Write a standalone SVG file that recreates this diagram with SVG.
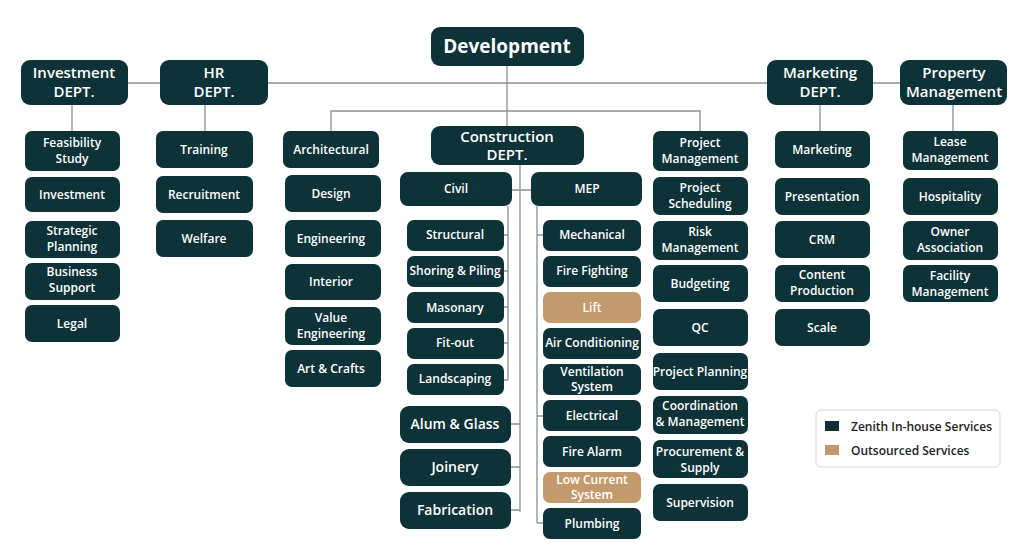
<svg xmlns="http://www.w3.org/2000/svg" width="1024" height="556" viewBox="0 0 1024 556">
<style>
.n{fill:#0d3238}.o{fill:#c39a6e}
text{font-family:"Open Sans","Liberation Sans",sans-serif;font-weight:600;fill:#fff;text-anchor:middle}
.s{font-size:12px}.m{font-size:14px}.l{font-size:15px}.xl{font-size:19px;font-weight:700}
.c{stroke:#8a9294;stroke-width:1.3;fill:none}
.lg{font-size:12px;fill:#222;text-anchor:start}
</style>
<rect width="1024" height="556" fill="#fff"/>
<g id="connectors" class="c">
<path d="M128 83H160M268 83H767M873 83H900"/>
<path d="M507 66V126M331 131V111H700V131"/>
<path d="M72 105V131M205 105V131M820 105V131M953 105V131"/>
<path d="M520 165V512M512 190H531"/>
<path d="M508 206V380M504 235H508M504 271H508M504 307H508M504 343H508M504 380H508"/>
<path d="M511 424H520M511 467H520M511 510H520"/>
<path d="M537 206V523M537 235H543M537 416H543M537 523H543"/>
</g>
<g id="development"><rect class="n" x="431" y="27" width="153" height="39" rx="9"/><text class="xl" x="507" y="53">Development</text></g>
<g id="investment"><rect class="n" x="21" y="60" width="107" height="45" rx="9"/><text class="l" x="74" y="78">Investment</text><text class="l" x="74" y="97">DEPT.</text></g>
<g id="hr"><rect class="n" x="160" y="60" width="108" height="45" rx="9"/><text class="l" x="214" y="78">HR</text><text class="l" x="214" y="97">DEPT.</text></g>
<g id="marketing"><rect class="n" x="767" y="60" width="106" height="45" rx="9"/><text class="l" x="820" y="78">Marketing</text><text class="l" x="820" y="97">DEPT.</text></g>
<g id="property"><rect class="n" x="900" y="60" width="107" height="45" rx="9"/><text class="l" x="954" y="78">Property</text><text class="l" x="954" y="97">Management</text></g>
<g id="construction"><rect class="n" x="431" y="126" width="153" height="39" rx="9"/><text class="l" x="507" y="142">Construction</text><text class="l" x="507" y="160">DEPT.</text></g>
<g id="civil"><rect class="n" x="400" y="172" width="112" height="34" rx="8"/><text class="s" x="456" y="193">Civil</text></g>
<g id="mep"><rect class="n" x="531" y="172" width="111" height="34" rx="8"/><text class="s" x="587" y="193">MEP</text></g>

<g id="feasibility"><rect class="n" x="25" y="131" width="95" height="40" rx="7"/><text class="s" x="72" y="147">Feasibility</text><text class="s" x="72" y="163">Study</text></g>
<g id="inv"><rect class="n" x="25" y="177" width="95" height="35" rx="7"/><text class="s" x="72" y="199">Investment</text></g>
<g id="strategic"><rect class="n" x="25" y="221" width="95" height="37" rx="7"/><text class="s" x="72" y="235">Strategic</text><text class="s" x="72" y="251">Planning</text></g>
<g id="business"><rect class="n" x="25" y="263" width="95" height="37" rx="7"/><text class="s" x="72" y="276">Business</text><text class="s" x="72" y="292">Support</text></g>
<g id="legal"><rect class="n" x="25" y="305" width="95" height="37" rx="7"/><text class="s" x="72" y="328">Legal</text></g>

<g id="training"><rect class="n" x="156" y="131" width="97" height="37" rx="7"/><text class="s" x="204" y="154">Training</text></g>
<g id="recruitment"><rect class="n" x="156" y="176" width="97" height="37" rx="7"/><text class="s" x="204" y="199">Recruitment</text></g>
<g id="welfare"><rect class="n" x="156" y="220" width="97" height="37" rx="7"/><text class="s" x="204" y="243">Welfare</text></g>

<g id="architectural"><rect class="n" x="283" y="131" width="96" height="37" rx="7"/><text class="s" x="331" y="154">Architectural</text></g>
<g id="design"><rect class="n" x="285" y="175" width="96" height="37" rx="7"/><text class="s" x="331" y="198">Design</text></g>
<g id="engineering"><rect class="n" x="285" y="220" width="96" height="37" rx="7"/><text class="s" x="331" y="243">Engineering</text></g>
<g id="interior"><rect class="n" x="285" y="264" width="96" height="36" rx="7"/><text class="s" x="331" y="286">Interior</text></g>
<g id="value"><rect class="n" x="285" y="307" width="96" height="38" rx="7"/><text class="s" x="331" y="322">Value</text><text class="s" x="331" y="338">Engineering</text></g>
<g id="art"><rect class="n" x="285" y="350" width="96" height="37" rx="7"/><text class="s" x="331" y="373">Art &amp; Crafts</text></g>

<g id="structural"><rect class="n" x="407" y="220" width="97" height="31" rx="7"/><text class="s" x="455" y="239">Structural</text></g>
<g id="shoring"><rect class="n" x="407" y="256" width="97" height="31" rx="7"/><text class="s" x="455" y="275">Shoring &amp; Piling</text></g>
<g id="masonary"><rect class="n" x="407" y="292" width="97" height="31" rx="7"/><text class="s" x="455" y="312">Masonary</text></g>
<g id="fitout"><rect class="n" x="407" y="328" width="97" height="31" rx="7"/><text class="s" x="455" y="347">Fit-out</text></g>
<g id="landscaping"><rect class="n" x="407" y="364" width="97" height="31" rx="7"/><text class="s" x="455" y="383">Landscaping</text></g>
<g id="alum"><rect class="n" x="400" y="406" width="111" height="37" rx="9"/><text class="m" x="455" y="429">Alum &amp; Glass</text></g>
<g id="joinery"><rect class="n" x="400" y="449" width="111" height="37" rx="9"/><text class="m" x="455" y="472">Joinery</text></g>
<g id="fabrication"><rect class="n" x="400" y="492" width="111" height="37" rx="9"/><text class="m" x="455" y="515">Fabrication</text></g>

<g id="mechanical"><rect class="n" x="543" y="220" width="98" height="31" rx="7"/><text class="s" x="592" y="239">Mechanical</text></g>
<g id="firefighting"><rect class="n" x="543" y="256" width="98" height="31" rx="7"/><text class="s" x="592" y="275">Fire Fighting</text></g>
<g id="lift"><rect class="o" x="543" y="292" width="98" height="31" rx="7"/><text class="s" x="592" y="312">Lift</text></g>
<g id="aircon"><rect class="n" x="543" y="328" width="98" height="31" rx="7"/><text class="s" x="592" y="347">Air Conditioning</text></g>
<g id="ventilation"><rect class="n" x="543" y="364" width="98" height="31" rx="7"/><text class="s" x="592" y="376">Ventilation</text><text class="s" x="592" y="391">System</text></g>
<g id="electrical"><rect class="n" x="543" y="400" width="98" height="31" rx="7"/><text class="s" x="592" y="420">Electrical</text></g>
<g id="firealarm"><rect class="n" x="543" y="436" width="98" height="31" rx="7"/><text class="s" x="592" y="456">Fire Alarm</text></g>
<g id="lowcurrent"><rect class="o" x="543" y="472" width="98" height="31" rx="7"/><text class="s" x="592" y="484">Low Current</text><text class="s" x="592" y="499">System</text></g>
<g id="plumbing"><rect class="n" x="543" y="508" width="98" height="31" rx="7"/><text class="s" x="592" y="528">Plumbing</text></g>

<g id="pm"><rect class="n" x="653" y="131" width="95" height="40" rx="7"/><text class="s" x="700" y="147">Project</text><text class="s" x="700" y="163">Management</text></g>
<g id="ps"><rect class="n" x="653" y="177" width="95" height="38" rx="7"/><text class="s" x="700" y="192">Project</text><text class="s" x="700" y="208">Scheduling</text></g>
<g id="risk"><rect class="n" x="653" y="221" width="95" height="39" rx="7"/><text class="s" x="700" y="236">Risk</text><text class="s" x="700" y="252">Management</text></g>
<g id="budgeting"><rect class="n" x="653" y="265" width="95" height="37" rx="7"/><text class="s" x="700" y="288">Budgeting</text></g>
<g id="qc"><rect class="n" x="653" y="309" width="95" height="37" rx="7"/><text class="s" x="700" y="332">QC</text></g>
<g id="planning"><rect class="n" x="653" y="353" width="95" height="37" rx="7"/><text class="s" x="700" y="376">Project Planning</text></g>
<g id="coordination"><rect class="n" x="653" y="396" width="95" height="38" rx="7"/><text class="s" x="700" y="410">Coordination</text><text class="s" x="700" y="426">&amp; Management</text></g>
<g id="procurement"><rect class="n" x="653" y="440" width="95" height="38" rx="7"/><text class="s" x="700" y="456">Procurement &amp;</text><text class="s" x="700" y="472">Supply</text></g>
<g id="supervision"><rect class="n" x="653" y="484" width="95" height="37" rx="7"/><text class="s" x="700" y="507">Supervision</text></g>

<g id="mkt"><rect class="n" x="775" y="131" width="95" height="37" rx="7"/><text class="s" x="822" y="154">Marketing</text></g>
<g id="presentation"><rect class="n" x="775" y="178" width="95" height="37" rx="7"/><text class="s" x="822" y="201">Presentation</text></g>
<g id="crm"><rect class="n" x="775" y="221" width="95" height="37" rx="7"/><text class="s" x="822" y="244">CRM</text></g>
<g id="content"><rect class="n" x="775" y="265" width="95" height="37" rx="7"/><text class="s" x="822" y="279">Content</text><text class="s" x="822" y="295">Production</text></g>
<g id="scale"><rect class="n" x="775" y="309" width="95" height="37" rx="7"/><text class="s" x="822" y="332">Scale</text></g>

<g id="lease"><rect class="n" x="903" y="131" width="95" height="39" rx="7"/><text class="s" x="950" y="146">Lease</text><text class="s" x="950" y="162">Management</text></g>
<g id="hospitality"><rect class="n" x="903" y="178" width="95" height="37" rx="7"/><text class="s" x="950" y="201">Hospitality</text></g>
<g id="owner"><rect class="n" x="903" y="221" width="95" height="39" rx="7"/><text class="s" x="950" y="236">Owner</text><text class="s" x="950" y="252">Association</text></g>
<g id="facility"><rect class="n" x="903" y="265" width="95" height="37" rx="7"/><text class="s" x="950" y="280">Facility</text><text class="s" x="950" y="296">Management</text></g>

<g id="legend">
<rect x="816" y="410" width="184" height="57" rx="5" fill="#fff" stroke="#d5d8d8"/>
<rect class="n" x="825" y="421" width="14" height="10"/><text class="lg" x="851" y="431">Zenith In-house Services</text>
<rect class="o" x="825" y="445" width="14" height="10"/><text class="lg" x="851" y="455">Outsourced Services</text>
</g>
</svg>
